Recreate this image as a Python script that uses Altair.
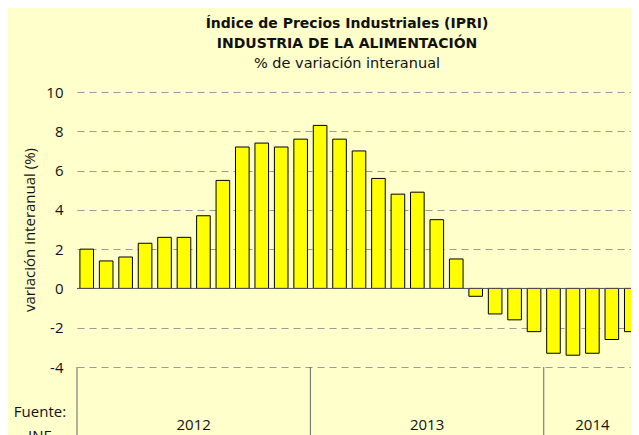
import altair as alt
import pandas as pd

# Data
months = list(range(29))
values = [2.0, 1.4, 1.6, 2.3, 2.6, 2.6, 3.7, 5.5, 7.2, 7.4, 7.2, 7.6,
          8.3, 7.6, 7.0, 5.6, 4.8, 4.9, 3.5, 1.5, -0.4, -1.3, -1.6, -2.2,
          -3.3, -3.4, -3.3, -2.6, -2.2]
years = ["2012", "2013", "2014"]
year_months = [12, 12, 5]
y_ticks = [-4, -2, 0, 2, 4, 6, 8, 10]

df = pd.DataFrame({"idx": months, "val": values})
starts = [sum(year_months[:i]) for i in range(len(years))]
ydf = pd.DataFrame({
    "year": years,
    "start": starts,
    "mid": [s + n / 2 for s, n in zip(starts, year_months)],
})
zdf = pd.DataFrame({"z": [0]})
src = pd.DataFrame({"t": ["Fuente:\nINE"]})

FONT = "Open Sans"
TFONT = "DejaVu Sans"
W, H = 554, 275
XR = 564  # x range extends past the visible edge, like the cropped original
total_months = sum(year_months)

yscale = alt.Scale(domain=[min(y_ticks), max(y_ticks)], nice=False, zero=False)
yaxis = alt.Axis(values=y_ticks, title="variación interanual (%)",
                 labelExpr="'' + datum.value", labelOverlap=False,
                 grid=True, gridDash=[7, 5], gridColor="#9a9a9a", gridWidth=1,
                 domain=False, ticks=False, labelPadding=14,
                 labelFont=FONT, labelFontSize=15, labelColor="#111111",
                 titleFont=FONT, titleFontSize=15, titleFontWeight="normal",
                 titleColor="#111111", titlePadding=8)

bars = alt.Chart(df).mark_bar(
    fill="#FFFF00", stroke="#000000", strokeWidth=1
).encode(
    x=alt.X("idx:O", axis=None,
            scale=alt.Scale(paddingInner=0.3, paddingOuter=0.15, range=[0, XR])),
    y=alt.Y("val:Q", scale=yscale, axis=yaxis),
)

zero = alt.Chart(zdf).mark_rule(color="#555555", strokeWidth=1).encode(
    y=alt.Y("z:Q", scale=yscale, axis=yaxis)
)

xlin = alt.Scale(domain=[0, total_months], nice=False, zero=False, range=[0, XR])

seps = alt.Chart(ydf).mark_rule(color="#666666", strokeWidth=1).encode(
    x=alt.X("start:Q", scale=xlin, axis=None),
    y=alt.value(H),
    y2=alt.value(H + 90),
)

ylabels = alt.Chart(ydf).mark_text(
    font=FONT, fontSize=15, color="#111111", baseline="middle", align="center"
).encode(
    x=alt.X("mid:Q", scale=xlin, axis=None),
    y=alt.value(333),
    text="year:N",
)

fuente = alt.Chart(src).mark_text(
    font=FONT, fontSize=15, color="#111111", baseline="middle", align="center",
    lineBreak="\n", lineHeight=24
).encode(
    x=alt.value(-37),
    y=alt.value(320),
    text="t:N",
)

chart = alt.layer(bars, zero, seps, ylabels, fuente).resolve_scale(
    x="independent"
).properties(
    width=W, height=H,
    title=alt.TitleParams(
        text=["Índice de Precios Industriales (IPRI)", "INDUSTRIA DE LA ALIMENTACIÓN"],
        subtitle="% de variación interanual",
        font=TFONT, fontSize=14, fontWeight="bold", color="#111111",
        subtitleFont=TFONT, subtitleFontSize=14.5, subtitleColor="#111111",
        lineHeight=20, subtitleLineHeight=20, subtitlePadding=6,
        anchor="middle", dx=-7, offset=15,
    ),
    autosize=alt.AutoSizeParams(type="none"),
    padding={"left": 69, "top": 84, "right": 0, "bottom": 80},
).configure(
    background="#FFFFCC"
).configure_view(stroke=None)

chart.save("out.html", embed_options={"renderer": "svg", "actions": False})
